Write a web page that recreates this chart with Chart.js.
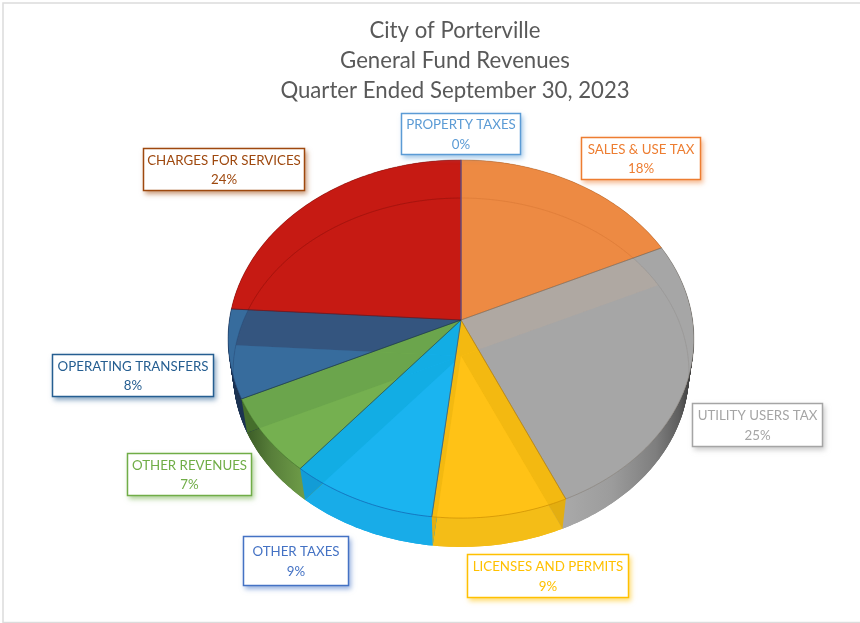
<!DOCTYPE html>
<html>
<head>
<meta charset="utf-8">
<script src="https://cdn.jsdelivr.net/npm/chart.js@4"></script>
<style>
html,body{margin:0;padding:0;background:#fff}
canvas{display:block}
</style>
</head>
<body>
<canvas id="c" width="860" height="623"></canvas>
<script>
const titleLines = ['City of Porterville', 'General Fund Revenues', 'Quarter Ended September 30, 2023'];
const categories = ['PROPERTY TAXES', 'SALES & USE TAX', 'UTILITY USERS TAX', 'LICENSES AND PERMITS', 'OTHER TAXES', 'OTHER REVENUES', 'OPERATING TRANSFERS', 'CHARGES FOR SERVICES'];
const percentages = [0, 18, 25.3, 8.5, 9.2, 7, 8, 24];
const labelColors = ['#5B9BD5', '#ED7D31', '#A5A5A5', '#FFC000', '#4472C4', '#70AD47', '#255E91', '#9E480E'];

// Per-slice shading of the translucent 3D solid.
const faceColors = ['#5B9BD5', '#ED8A43', '#A6A6A6', '#FFC216', '#1AB4F0', '#75B050', '#376C9D', '#C61A13'];
const bandColors = ['#5B9BD5', '#ED8A43', '#AFA8A2', '#F3B911', '#12ADE4', '#6BA54C', '#34557F', '#C61A13'];
const wallColors = ['#5B9BD5', '#D9772F', '#8C8C8C', '#F4BD17', '#18ACE8', '#5F8C3F', '#1C3352', '#9C1510'];
const cutColors = ['#5B9BD5', '#D9772F', '#8C8C8C', '#E3AE10', '#139CD6', '#456E2C', '#142640', '#9C1510'];
const edgeColors = ['rgba(80,100,200,.75)', 'rgba(150,80,30,.35)', 'rgba(110,100,90,.35)', 'rgba(190,130,0,.55)', 'rgba(20,90,170,.65)', 'rgba(50,90,30,.45)', 'rgba(25,50,90,.5)', 'rgba(120,15,10,.4)'];
const innerRimColors = ['rgba(0,0,0,0)', 'rgba(190,100,40,.25)', 'rgba(120,120,120,.22)', 'rgba(190,130,0,.18)', 'rgba(20,90,170,.2)', 'rgba(50,90,30,.15)', 'rgba(25,50,90,.2)', 'rgba(130,15,10,.45)'];

// Label box layout: left, top, right, bottom.
const labelBoxes = [
  [401, 113, 521, 155], [581, 137, 701, 180], [692, 403, 823, 447], [467, 554, 629, 598],
  [243, 536, 349, 586], [127, 453, 252, 496], [52, 354, 214, 397], [143, 148, 305, 191]
];

// Perspective projection of the pie disc (ratios of the library's outer radius).
const topFace = { oy: 0, ax: 0.994, ay: 0.760, k: 0.1061 };
const bottomFace = { oy: 0.1545, ax: 0.974, ay: 0.742, k: 0.0945 };
const SWEEP_STEPS = 48;
const FONT = 'Lato, Carlito, "Open Sans", sans-serif';

function lerpFace(t) {
  const o = {};
  for (const key of Object.keys(topFace)) o[key] = topFace[key] + (bottomFace[key] - topFace[key]) * t;
  return o;
}
function project(arc, face, a) {
  const r = arc.outerRadius, u = Math.cos(a), v = Math.sin(a), d = 1 - face.k * v;
  return [arc.x + r * face.ax * u / d, arc.y + r * face.oy + r * face.ay * v / d];
}
function wedge(arc, face) {
  const p = new Path2D();
  p.moveTo(arc.x, arc.y + arc.outerRadius * face.oy);
  const steps = Math.max(1, Math.ceil((arc.endAngle - arc.startAngle) / (Math.PI / 180)));
  for (let s = 0; s <= steps; s++) {
    const [x, y] = project(arc, face, arc.startAngle + (arc.endAngle - arc.startAngle) * s / steps);
    p.lineTo(x, y);
  }
  p.closePath();
  return p;
}
function rimOnly(arc, face) {
  const p = new Path2D();
  const steps = Math.max(1, Math.ceil((arc.endAngle - arc.startAngle) / (Math.PI / 180)));
  for (let s = 0; s <= steps; s++) {
    const [x, y] = project(arc, face, arc.startAngle + (arc.endAngle - arc.startAngle) * s / steps);
    s ? p.lineTo(x, y) : p.moveTo(x, y);
  }
  return p;
}
function wallPaint(ctx, i) {
  if (i === 2) {
    const g = ctx.createLinearGradient(567, 0, 694, 0);
    g.addColorStop(0, '#A8A8A8'); g.addColorStop(0.35, '#9C9C9C'); g.addColorStop(0.7, '#7E7E7E');
    g.addColorStop(0.88, '#5E5E5E'); g.addColorStop(1, '#333333');
    return g;
  }
  if (i === 5) {
    const g = ctx.createLinearGradient(304, 0, 250, 0);
    g.addColorStop(0, '#6E9C48'); g.addColorStop(0.6, '#587F3A'); g.addColorStop(1, '#3F6029');
    return g;
  }
  return wallColors[i];
}

const solidPie = {
  id: 'solidPie',
  beforeDraw(chart) {
    const ctx = chart.ctx;
    ctx.save();
    ctx.fillStyle = '#fff';
    ctx.fillRect(0, 0, chart.width, chart.height);
    ctx.strokeStyle = '#DCDCDC';
    ctx.lineWidth = 1.5;
    ctx.strokeRect(3, 3, chart.width + 20, chart.height - 3.5);
    ctx.restore();
  },
  beforeDatasetsDraw(chart) {
    const ctx = chart.ctx, arcs = chart.getDatasetMeta(0).data;
    ctx.save();
    // Side walls: sweep each wedge from the upper face to the lower one.
    arcs.forEach((arc, i) => {
      ctx.fillStyle = wallPaint(ctx, i);
      for (let s = SWEEP_STEPS; s >= 0; s--) ctx.fill(wedge(arc, lerpFace(s / SWEEP_STEPS)));
    });
    arcs.forEach((arc, i) => {
      ctx.fillStyle = wallPaint(ctx, i);
      ctx.fill(wedge(arc, bottomFace));
    });
    // Cut faces seen through the translucent solid at each radial edge.
    arcs.forEach((arc, i) => {
      const from = arc.startAngle + Math.PI / 2;
      const to = arc.endAngle + Math.PI / 2;
      const quad = (a) => {
        const p = new Path2D();
        const r = arc.outerRadius;
        p.moveTo(arc.x, arc.y + r * topFace.oy);
        p.lineTo(...project(arc, topFace, a));
        p.lineTo(...project(arc, bottomFace, a));
        p.lineTo(arc.x, arc.y + r * bottomFace.oy);
        p.closePath();
        ctx.fillStyle = cutColors[i];
        ctx.fill(p);
      };
      if (from < Math.PI && from > 0) quad(arc.startAngle);
      if (to > Math.PI) quad(arc.endAngle);
    });
    // Upper face, with the lower face showing through it.
    arcs.forEach((arc, i) => {
      const top = wedge(arc, topFace);
      ctx.save();
      ctx.clip(top);
      ctx.fillStyle = faceColors[i];
      ctx.fillRect(0, 0, chart.width, chart.height);
      ctx.fillStyle = bandColors[i];
      arcs.forEach(other => ctx.fill(wedge(other, bottomFace)));
      ctx.fillStyle = faceColors[i];
      ctx.fill(wedge(arc, bottomFace));
      ctx.strokeStyle = innerRimColors[i];
      ctx.lineWidth = 1;
      arcs.forEach(other => ctx.stroke(rimOnly(other, bottomFace)));
      ctx.restore();
    });
    // Slice outlines.
    arcs.forEach((arc, i) => {
      ctx.strokeStyle = edgeColors[i];
      ctx.lineWidth = 1;
      ctx.stroke(wedge(arc, topFace));
    });
    ctx.restore();
    return false;
  },
  afterDraw(chart) {
    const ctx = chart.ctx;
    ctx.save();
    ctx.textAlign = 'center';
    ctx.textBaseline = 'middle';
    ctx.fillStyle = '#595959';
    ctx.font = '22.2px ' + FONT;
    titleLines.forEach((line, i) => ctx.fillText(line, 455, 30.7 + i * 30));
    categories.forEach((name, i) => {
      const [l, t, r, b] = labelBoxes[i];
      ctx.save();
      ctx.shadowColor = labelColors[i] + '90';
      ctx.shadowBlur = 5;
      ctx.shadowOffsetX = 2;
      ctx.shadowOffsetY = 3;
      ctx.fillStyle = '#fff';
      ctx.fillRect(l, t, r - l, b - t);
      ctx.restore();
      ctx.strokeStyle = labelColors[i];
      ctx.lineWidth = 1.5;
      ctx.strokeRect(l + 0.5, t + 0.5, r - l - 1, b - t - 1);
      ctx.fillStyle = labelColors[i];
      ctx.font = '13.3px ' + FONT;
      const mid = (t + b) / 2;
      ctx.fillText(name, (l + r) / 2, mid - 9);
      ctx.fillText(Math.round(percentages[i]) + '%', (l + r) / 2, mid + 10.5);
    });
    ctx.restore();
  }
};

new Chart(document.getElementById('c'), {
  type: 'pie',
  data: {
    labels: categories,
    datasets: [{ data: percentages, backgroundColor: faceColors, borderWidth: 0 }]
  },
  options: {
    responsive: false,
    animation: false,
    layout: { padding: { left: 228, right: 166, top: 87, bottom: 70 } },
    plugins: { legend: { display: false }, title: { display: false }, tooltip: { enabled: false } }
  },
  plugins: [solidPie]
});
</script>
</body>
</html>
